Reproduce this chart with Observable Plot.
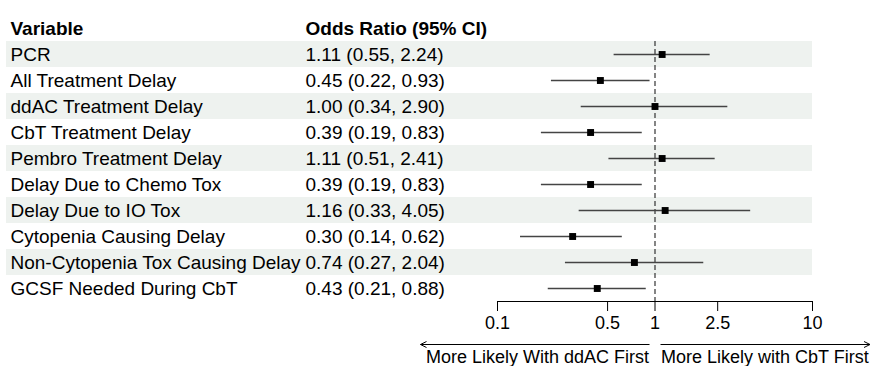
<!DOCTYPE html>
<html><head><meta charset="utf-8">
<script src="https://cdn.jsdelivr.net/npm/d3@7"></script>
<script src="https://cdn.jsdelivr.net/npm/@observablehq/plot@0.6"></script>
<style>body{margin:0;background:#fff} #chart{width:872px;height:366px}</style>
</head><body><div id="chart"></div>
<script>
const variables = ["PCR", "All Treatment Delay", "ddAC Treatment Delay", "CbT Treatment Delay", "Pembro Treatment Delay", "Delay Due to Chemo Tox", "Delay Due to IO Tox", "Cytopenia Causing Delay", "Non-Cytopenia Tox Causing Delay", "GCSF Needed During CbT"];
const oddsRatio = [1.11, 0.45, 1.00, 0.39, 1.11, 0.39, 1.16, 0.30, 0.74, 0.43];
const ciLower = [0.55, 0.22, 0.34, 0.19, 0.51, 0.19, 0.33, 0.14, 0.27, 0.21];
const ciUpper = [2.24, 0.93, 2.90, 0.83, 2.41, 0.83, 4.05, 0.62, 2.04, 0.88];
const axisTicks = [0.1, 0.5, 1, 2.5, 10];
const axisTickLabels = ["0.1", "0.5", "1", "2.5", "10"];
const headerVariable = "Variable";
const headerOdds = "Odds Ratio (95% CI)";
const leftDirection = "More Likely With ddAC First";
const rightDirection = "More Likely with CbT First";

const rows = variables.map((v, i) => ({
  i, variable: v, or: oddsRatio[i], lo: ciLower[i], hi: ciUpper[i],
  label: `${oddsRatio[i].toFixed(2)} (${ciLower[i].toFixed(2)}, ${ciUpper[i].toFixed(2)})`
}));
const shaded = rows.filter(d => d.i % 2 === 0);

const W = 872, H = 366, ML = 497, MR = 60, MT = 41, MB = 65;
const col1 = 10, col2 = 305, bandLeft = 6;
const FONT = "'Liberation Sans', Arial, Helvetica, sans-serif";
const TABLE_FS = 19;
const xMin = axisTicks[0], xMax = axisTicks[axisTicks.length - 1];
const n = variables.length;

const plot = Plot.plot({
  width: W, height: H,
  marginLeft: ML, marginRight: MR, marginTop: MT, marginBottom: MB,
  style: {fontFamily: FONT, fontSize: "18px", color: "#000", background: "#fff", overflow: "visible"},
  x: {type: "log", domain: [xMin, xMax], ticks: axisTicks,
      tickFormat: d => axisTickLabels[axisTicks.indexOf(d)], tickSize: 10, tickPadding: 5, label: null},
  y: {domain: [-0.5, n - 0.5], reverse: true, axis: null},
  marks: [
    Plot.rect(shaded, {x1: () => xMin, x2: () => xMax, y1: d => d.i - 0.5, y2: d => d.i + 0.5,
      fill: "#eef2ef", insetLeft: -(ML - bandLeft)}),
    Plot.text([headerVariable], {x: () => xMin, y: () => -1, text: d => d, textAnchor: "start",
      dx: col1 - ML, fontSize: TABLE_FS, fontWeight: "bold", fill: "#000"}),
    Plot.text([headerOdds], {x: () => xMin, y: () => -1, text: d => d, textAnchor: "start",
      dx: col2 - ML, fontSize: TABLE_FS, fontWeight: "bold", fill: "#000"}),
    Plot.text(rows, {x: () => xMin, y: "i", text: "variable", textAnchor: "start",
      dx: col1 - ML, fontSize: TABLE_FS, fill: "#000"}),
    Plot.text(rows, {x: () => xMin, y: "i", text: "label", textAnchor: "start",
      dx: col2 - ML, fontSize: TABLE_FS, fill: "#000"}),
    Plot.ruleX([1], {y1: () => -0.5, y2: () => n - 0.5, stroke: "#222", strokeWidth: 1.1, strokeDasharray: "5,3"}),
    Plot.ruleY(rows, {y: "i", x1: "lo", x2: "hi", stroke: "#444", strokeWidth: 1.5}),
    Plot.dot(rows, {x: "or", y: "i", symbol: "square", r: 3.9, fill: "#000", stroke: "none"}),
    Plot.ruleY([n - 0.5], {x1: () => xMin, x2: () => xMax, stroke: "#000", strokeWidth: 1}),
    Plot.text([leftDirection], {x: () => 1, y: () => n - 0.5, text: d => d, textAnchor: "end",
      dx: -6, dy: 56, fontSize: 18, fill: "#000"}),
    Plot.text([rightDirection], {x: () => 1, y: () => n - 0.5, text: d => d, textAnchor: "start",
      dx: 6, dy: 56, fontSize: 18, fill: "#000"})
  ]
});
document.getElementById("chart").appendChild(plot);

// direction arrows beneath the axis
const svg = d3.select(plot);
const cx = plot.scale("x").apply(1);
const ay = 344.5;
const g = svg.append("g").attr("stroke", "#000").attr("fill", "none").attr("stroke-width", 1);
const leftEnd = cx - 234, rightEnd = W - 2;
g.append("line").attr("x1", cx - 5).attr("x2", leftEnd).attr("y1", ay).attr("y2", ay);
g.append("path").attr("d", `M${leftEnd + 6},${ay - 3}L${leftEnd},${ay}L${leftEnd + 6},${ay + 3}`);
g.append("line").attr("x1", cx + 6).attr("x2", rightEnd).attr("y1", ay).attr("y2", ay);
g.append("path").attr("d", `M${rightEnd - 6},${ay - 3}L${rightEnd},${ay}L${rightEnd - 6},${ay + 3}`);
</script>
</body></html>
